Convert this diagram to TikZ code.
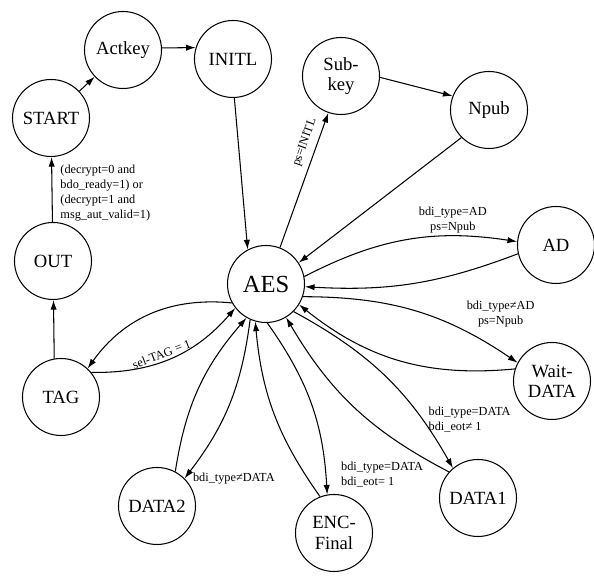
\documentclass[tikz,border=0pt]{standalone}
\usepackage{fontspec}
\setmainfont{Liberation Serif}
\usetikzlibrary{arrows.meta}

\begin{document}
\begin{tikzpicture}[
    st/.style={draw, circle, minimum size=1.54cm, inner sep=0pt, line width=0.6pt,
        align=center, font=\fontsize{10.6}{11.5}\selectfont},
    arr/.style={-{Latex[length=5.5pt, width=3.6pt]}, line width=0.6pt},
    lbl/.style={font=\fontsize{7}{8.5}\selectfont, inner sep=1.5pt}
]
\useasboundingbox (0,0) rectangle (11.88,11.52);

% ---- States ----
\node[st] (start)  at (1.02, 9.16)  {START};
\node[st] (actkey) at (2.46, 10.52) {Actkey};
\node[st] (initl)  at (4.66, 10.34) {INITL};
\node[st] (subkey) at (6.82, 10.00) {Sub-\\key};
\node[st] (npub)   at (9.78, 9.32)  {Npub};
\node[st] (out)    at (1.06, 6.30)  {OUT};
\node[st, font=\fontsize{14}{16}\selectfont] (aes) at (5.32, 5.84) {AES};
\node[st] (ad)     at (11.12, 6.62) {AD};
\node[st] (wait)   at (11.04, 3.90) {Wait-\\DATA};
\node[st] (tag)    at (1.22, 3.58)  {TAG};
\node[st] (data2)  at (3.14, 1.40)  {DATA2};
\node[st] (enc)    at (6.68, 0.86)  {ENC-\\Final};
\node[st] (data1)  at (9.56, 1.56)  {DATA1};

% ---- Key setup ----
\draw[arr] (start) -- (actkey);
\draw[arr] (actkey.3) -- (initl.163);
\draw[arr] (initl.272) -- (aes.118);
\draw[arr] (aes.69) -- node[lbl, above=2pt, sloped, pos=0.75] (lblinitl) {ps=INITL} (subkey.251);
\draw[arr] (subkey.358) -- (npub.159);
\draw[arr] (npub.225) -- (aes.33);

% ---- AD ----
\draw[arr] (aes.11) to[bend left=18]
    node[lbl, above, align=center, pos=0.72] (lblad) {bdi\_type=AD\\ps=Npub} (ad.175);
\draw[arr] (ad.193) to[bend left=12] (aes.356);

% ---- Wait-DATA ----
\draw[arr] (aes.341) to[bend left=17]
    node[lbl, above right, align=center, pos=0.74] (lblwait) {bdi\_type≠AD\\ps=Npub} (wait.152);
\draw[arr] (wait.162) to[bend left=22] (aes.328);

% ---- DATA1 ----
\draw[arr] (aes.315) to[bend left=16]
    node[lbl, right=2pt, align=left, pos=0.76] (lbldata1) {bdi\_type=DATA\\bdi\_eot≠ 1} (data1.130);
\draw[arr] (data1.138) to[bend left=16] (aes.301);

% ---- ENC-Final ----
\draw[arr] (aes.272) to[bend left=16]
    node[lbl, right=7pt, align=left, pos=0.9] (lblenc) {bdi\_type=DATA\\bdi\_eot= 1} (enc.100);
\draw[arr] (enc.111) to[bend left=15] (aes.254);

% ---- DATA2 ----
\draw[arr] (aes.246) to[bend left=15]
    node[lbl, right=3pt, at end] (lbldata2) {bdi\_type≠DATA} (data2.45);
\draw[arr] (data2.62) to[bend left=16] (aes.240);

% ---- TAG / OUT ----
\draw[arr] (aes.209) to[bend right=30] (tag.47);
\draw[arr] (tag.39) to[bend right=25]
    node[lbl, above, sloped, pos=0.45] (lbltag) {sel-TAG = 1} (aes.218);
\draw[arr] (tag.100) -- (out);
\draw[arr] (out) -- node[lbl, right=3pt, align=left, pos=0.45] (lblout)
    {(decrypt=0 and\\bdo\_ready=1) or\\(decrypt=1 and\\msg\_aut\_valid=1)} (start);

\end{tikzpicture}
\end{document}
